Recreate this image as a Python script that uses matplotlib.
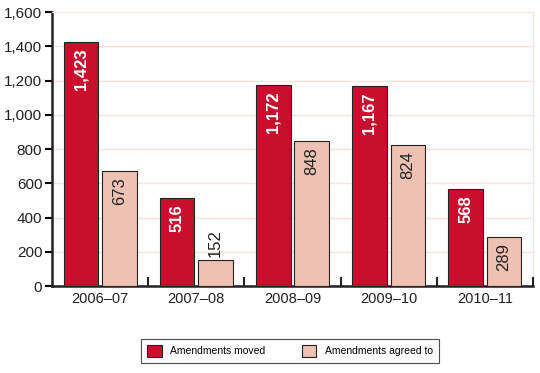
import numpy as np
import matplotlib
matplotlib.use('Agg')
import matplotlib.pyplot as plt

plt.rcParams['font.family'] = ['Liberation Sans', 'DejaVu Sans']

# Data
years = ['2006–07', '2007–08', '2008–09', '2009–10', '2010–11']
moved = [1423, 516, 1172, 1167, 568]
agreed = [673, 152, 848, 824, 289]

red = '#C8102E'
pink = '#EEC1B3'

fig = plt.figure(figsize=(5.4, 3.73), dpi=100)
ax = fig.add_axes([0.0963, 0.2332, 0.8907, 0.7346])

x = np.arange(len(years))
w = 0.36
gap = 0.02
b1 = ax.bar(x - w/2 - gap, moved, w, color=red, edgecolor='#222222', linewidth=0.8,
            label='Amendments moved', zorder=3)
b2 = ax.bar(x + w/2 + gap, agreed, w, color=pink, edgecolor='#222222', linewidth=0.8,
            label='Amendments agreed to', zorder=3)

def label(rect, v, color, weight):
    # short bars get their label above the bar
    if v < 250:
        off, va = 2.5, 'bottom'
    else:
        off, va = -4.5, 'top'
    ax.annotate(f'{v:,}', (rect.get_x() + rect.get_width()/2, v), xytext=(0, off),
                textcoords='offset points', rotation=90, ha='center', va=va,
                color=color, fontsize=12, fontweight=weight, zorder=4)

for rect, v in zip(b1, moved):
    label(rect, v, 'white', 'bold')
for rect, v in zip(b2, agreed):
    label(rect, v, '#222222', 'normal')

ax.set_xlim(-0.5, len(years) - 0.5)
ax.set_ylim(0, 1600)
ax.set_yticks(np.arange(0, 1601, 200))
ax.set_yticklabels([f'{t:,}' for t in range(0, 1601, 200)], fontsize=11, color='#222222')
ax.yaxis.grid(True, color='#FBE3D8', linewidth=1, zorder=0)

ax.set_xticks(x)
ax.set_xticklabels(years, fontsize=10.5, color='#222222')
ax.tick_params(axis='x', length=0, pad=4)
ax.tick_params(axis='y', length=5, width=1.5, direction='out', pad=2)
# group separators on the x axis
for b in np.arange(-0.5, len(years) + 0.5, 1.0)[1:]:
    ax.plot([b, b], [0, 45], color='#222222', linewidth=1.5, zorder=5, clip_on=False)

for s in ['top', 'right']:
    ax.spines[s].set_color('#FBE3D8')
for s in ['left', 'bottom']:
    ax.spines[s].set_linewidth(1.8)
    ax.spines[s].set_color('#222222')

leg = fig.legend(loc='center', bbox_to_anchor=(290/540, 1 - 351/373), ncol=2,
                 fontsize=7.5, frameon=True, fancybox=False, edgecolor='#222222',
                 handlelength=1.4, handleheight=1.4, columnspacing=3.5, borderpad=0.6)
leg.get_frame().set_linewidth(0.8)

fig.savefig('out.png', dpi=100)
